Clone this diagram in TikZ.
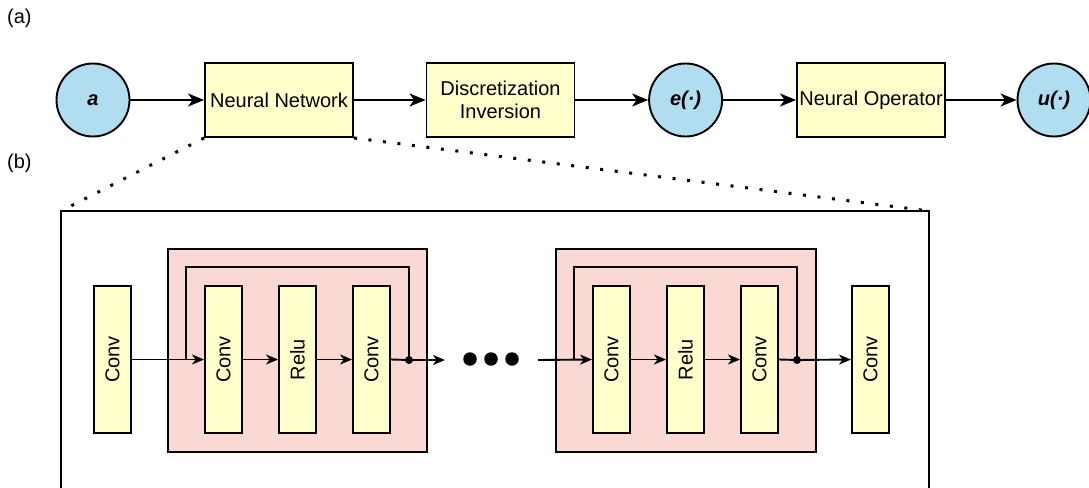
\documentclass[tikz,border=0pt]{standalone}
\usepackage{fontspec}
\setmainfont{Liberation Sans}
\usetikzlibrary{arrows.meta}
\definecolor{boxyellow}{HTML}{FFFFCC}
\definecolor{circblue}{HTML}{B1DDF0}
\definecolor{blockpink}{HTML}{FAD9D5}
\tikzset{
  bigtxt/.style={font=\fontsize{20}{23}\selectfont},
  smalltxt/.style={font=\fontsize{20}{22}\selectfont},
  topbox/.style={draw, line width=1.9pt, fill=boxyellow, minimum width=148pt, minimum height=74pt, inner sep=0pt, align=center, bigtxt},
  topcirc/.style={draw, line width=1.9pt, fill=circblue, circle, minimum size=73pt, inner sep=0pt, font=\fontsize{20}{23}\selectfont\bfseries\itshape},
  convbox/.style={draw, line width=1.9pt, fill=boxyellow, minimum width=147pt, minimum height=37pt, inner sep=0pt, rotate=90, smalltxt},
  pinkblock/.style={draw, line width=1.9pt, fill=blockpink},
  toparrow/.style={line width=1.8pt, -{Stealth[length=16pt,width=13pt,inset=4.5pt]}},
  botarrow/.style={line width=1.9pt, -{Stealth[length=12pt,width=10pt,inset=3.5pt]}},
  botline/.style={line width=1.9pt},
  zoomline/.style={line width=3pt, dash pattern=on 3pt off 11.6pt},
  framebox/.style={line width=1.9pt},
  junction/.style={circle, fill=black, inner sep=0pt, minimum size=8pt},
  bigdot/.style={circle, fill=black, inner sep=0pt, minimum size=13.5pt},
  panellabel/.style={anchor=west, font=\fontsize{20}{22}\selectfont, inner sep=0pt}
}
\begin{document}
\begin{tikzpicture}[x=1pt,y=-1pt]
\useasboundingbox (0,0) rectangle (1089,487);
\clip (0,0) rectangle (1089,487);
% panel labels
\node[panellabel] (la) at (7,18) {(a)};
\node[panellabel] (lb) at (7,163) {(b)};
% top row
\node[topcirc] (a) at (93,100) {a};
\node[topbox] (nn) at (279,100) {Neural Network};
\node[topbox] (di) at (500.5,100) {Discretization\\Inversion};
\node[topcirc] (e) at (685.6,100) {e(·)};
\node[topbox] (no) at (871,100) {Neural Operator};
\node[topcirc] (u) at (1054,100) {u(·)};
\draw[toparrow] (a) -- (nn);
\draw[toparrow] (nn) -- (di);
\draw[toparrow] (di) -- (e);
\draw[toparrow] (e) -- (no);
\draw[toparrow] (no) -- (u);
% frame
\coordinate (ftl) at (61,211);
\coordinate (ftr) at (929,211);
\coordinate (fbl) at (61,495);
\coordinate (fbr) at (929,495);
\draw[framebox] (fbl) -- (ftl) -- (ftr) -- (fbr);
\draw[zoomline] (nn.south west) -- (ftl);
\draw[zoomline] (nn.south east) -- (ftr);
% residual blocks
\node[pinkblock, minimum width=259pt, minimum height=203pt, inner sep=0pt] (rb1) at (297.5,350.5) {};
\node[pinkblock, minimum width=260pt, minimum height=203pt, inner sep=0pt] (rb2) at (686,350.5) {};
% conv boxes
\node[convbox] (c1) at (112.5,359.5) {Conv};
\node[convbox] (c2) at (223.5,359.5) {Conv};
\node[convbox] (r1) at (297.5,359.5) {Relu};
\node[convbox] (c3) at (371.5,359.5) {Conv};
\node[convbox] (c4) at (611.5,359.5) {Conv};
\node[convbox] (r2) at (685.5,359.5) {Relu};
\node[convbox] (c5) at (759.5,359.5) {Conv};
\node[convbox] (c6) at (870.5,359.5) {Conv};
% junctions and helper coordinates
\coordinate (s1) at (186,360);
\coordinate (s1t) at (186,267);
\node[junction] (j1) at (409,360) {};
\coordinate (j1t) at (409,267);
\coordinate (o1) at (445,360);
\coordinate (i2) at (538,360);
\coordinate (s2) at (574,360);
\coordinate (s2t) at (574,267);
\node[junction] (j2) at (797,360) {};
\coordinate (j2t) at (797,267);
% dots
\node[bigdot] (d1) at (470,359) {};
\node[bigdot] (d2) at (491,359) {};
\node[bigdot] (d3) at (512,359) {};
% connectors block 1
\draw[botarrow] (c1.south) -- (c2.north);
\draw[botline] (s1) -- (s1t) -- (j1t) -- (j1.center);
\draw[botarrow] (c2.south) -- (r1.north);
\draw[botarrow] (r1.south) -- (c3.north);
\draw[botline] (c3.south) -- (j1.center);
\draw[botarrow] (j1.center) -- (o1);
% connectors block 2
\draw[botarrow] (i2) -- (c4.north);
\draw[botline] (s2) -- (s2t) -- (j2t) -- (j2.center);
\draw[botarrow] (c4.south) -- (r2.north);
\draw[botarrow] (r2.south) -- (c5.north);
\draw[botline] (c5.south) -- (j2.center);
\draw[botarrow] (j2.center) -- (c6.north);
\end{tikzpicture}
\end{document}
